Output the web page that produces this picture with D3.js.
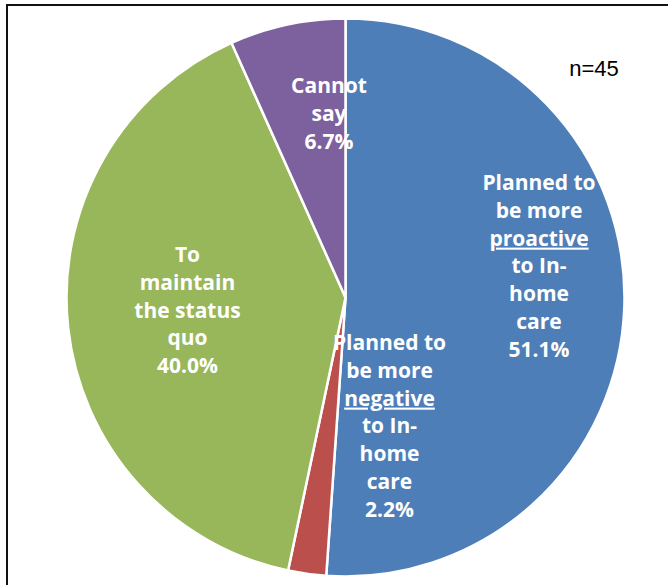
<!DOCTYPE html>
<html><head><meta charset="utf-8">
<script src="https://cdn.jsdelivr.net/npm/d3@7/dist/d3.min.js"></script>
<style>html,body{margin:0;padding:0;background:#fff;overflow:hidden}</style>
</head><body>
<svg id="chart" width="668" height="585"></svg>
<script>
// ---- data ----
const categories = ["Planned to be more proactive to In-home care", "Planned to be more negative to In-home care", "To maintain the status quo", "Cannot say"];
const values = [51.1, 2.2, 40.0, 6.7];
const labelLines = [
  ["Planned to", "be more", "<u>proactive", "to In-", "home", "care"],
  ["Planned to", "be more", "<u>negative", "to In-", "home", "care"],
  ["To", "maintain", "the status", "quo"],
  ["Cannot", "say"]
];
const sampleNote = "n=45";

// ---- layout / style ----
const colors = ["#4e7eb8", "#bb4f4c", "#98b65a", "#7d619e"];
const cx = 345.5, cy = 297.5, R = 279;
// label block anchors (center x, first-line baseline) relative to the pie centre
const labelOffsets = [[193.5, -107.5], [44, 52.5], [-158, -35.5], [-16.5, -204.5]];
const lineH = 27.8;

const svg = d3.select("#chart");
svg.append("rect").attr("x", 7).attr("y", 5).attr("width", 700).attr("height", 620)
  .attr("fill", "#fff").attr("stroke", "#111").attr("stroke-width", 2);

const pie = d3.pie().sort(null).value(d => d);
const arcs = pie(values);
const arc = d3.arc().innerRadius(0).outerRadius(R);

const g = svg.append("g").attr("transform", `translate(${cx},${cy})`);
g.selectAll("path").data(arcs).join("path")
  .attr("d", arc)
  .attr("fill", (d, i) => colors[i])
  .attr("stroke", "#fff").attr("stroke-width", 2.5).attr("stroke-linejoin", "round");

const fmt = d3.format(".1f");
arcs.forEach((a, i) => {
  const [ox, oy] = labelOffsets[i];
  const lines = labelLines[i].concat([fmt(values[i]) + "%"]);
  const t = g.append("text")
    .attr("text-anchor", "middle")
    .attr("fill", "#fff")
    .attr("font-family", "'Open Sans', Lato, sans-serif")
    .attr("font-weight", "bold")
    .attr("font-size", 21);
  lines.forEach((ln, j) => {
    const u = ln.startsWith("<u>");
    const ts = t.append("tspan").attr("x", ox).attr("y", oy + j * lineH)
      .text(u ? ln.slice(3) : ln);
    if (u) ts.attr("text-decoration", "underline");
  });
});

svg.append("text").attr("x", 594).attr("y", 76).attr("text-anchor", "middle")
  .attr("font-family", "'Liberation Sans', Arial, sans-serif").attr("font-size", 22)
  .attr("fill", "#000").text(sampleNote);
</script>
</body></html>
